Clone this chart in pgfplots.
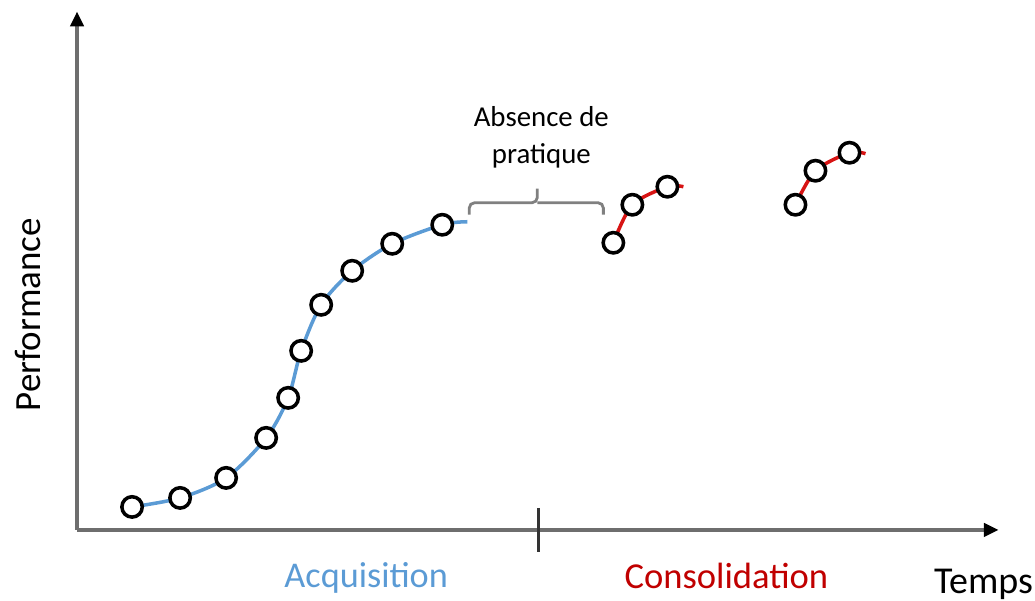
\documentclass[border=0pt]{standalone}
\usepackage{pgfplots}
\pgfplotsset{compat=1.18}
\usepackage{fontspec}
\setmainfont{Carlito}
\usetikzlibrary{arrows.meta}
\definecolor{acqblue}{RGB}{91,155,213}
\definecolor{consred}{RGB}{192,0,0}
\definecolor{curvered}{RGB}{215,20,20}
\definecolor{axgray}{RGB}{110,110,110}
\begin{document}
\begin{tikzpicture}[x=0.01cm,y=0.01cm]
\path[use as bounding box] (0,0) rectangle (1035,601);
\begin{axis}[
  at={(0.77cm,0.71cm)}, anchor=south west,
  scale only axis, width=9.21cm, height=5.18cm,
  xmin=77, xmax=998, ymin=71, ymax=589,
  axis lines=left,
  axis line style={draw=axgray, line width=0.9pt, -{Triangle[length=4.2pt,width=3.8pt,color=black]}},
  xtick=\empty, ytick=\empty,
  clip=false,
]
% Acquisition curve
\addplot[acqblue, line width=1pt, smooth, no marks] coordinates {
 (132,94) (180,103) (226,123) (266,163) (288,203) (301,250) (321,296) (352,330) (392,357) (442,376) (467,379)};
\addplot[only marks, mark=*, mark size=2.9pt, mark options={fill=white, draw=black, line width=1pt}] coordinates {
 (132,94) (180,103) (226,123) (266,163) (288,203) (301,250) (321,296) (352,330) (392,357) (442,376)};
% Consolidation curves
\addplot[curvered, line width=1pt, smooth, no marks] coordinates {
 (613,358) (632,396) (667,414) (683,414)};
\addplot[only marks, mark=*, mark size=2.9pt, mark options={fill=white, draw=black, line width=1pt}] coordinates {
 (613,358) (632,396) (667,414)};
\addplot[curvered, line width=1pt, smooth, no marks] coordinates {
 (795,396) (815,430) (849,448) (865,447)};
\addplot[only marks, mark=*, mark size=2.9pt, mark options={fill=white, draw=black, line width=1pt}] coordinates {
 (795,396) (815,430) (849,448)};
% separator tick
\draw[black!80, line width=0.8pt] (axis cs:538,93) -- (axis cs:538,49);
% bracket
\draw[gray, line width=0.8pt, rounded corners=1.5pt] (axis cs:469,386) |- (axis cs:537,398) -- (axis cs:537,412);
\draw[gray, line width=0.8pt, rounded corners=1.5pt] (axis cs:537,398) -| (axis cs:603,386);
\node[font=\fontsize{8.2}{10.5}\selectfont, align=center] at (axis cs:541,463) {Absence de\\pratique};
% labels
\node[rotate=90, font=\fontsize{10.5}{13}\selectfont] at (axis cs:28,286) {Performance};
\node[font=\fontsize{10.3}{13}\selectfont, text=acqblue] at (axis cs:366,23) {Acquisition};
\node[font=\fontsize{10.4}{13}\selectfont, text=consred] at (axis cs:726,25) {Consolidation};
\node[font=\fontsize{10.8}{13}\selectfont] at (axis cs:983,17) {Temps};
\end{axis}
\end{tikzpicture}
\end{document}
